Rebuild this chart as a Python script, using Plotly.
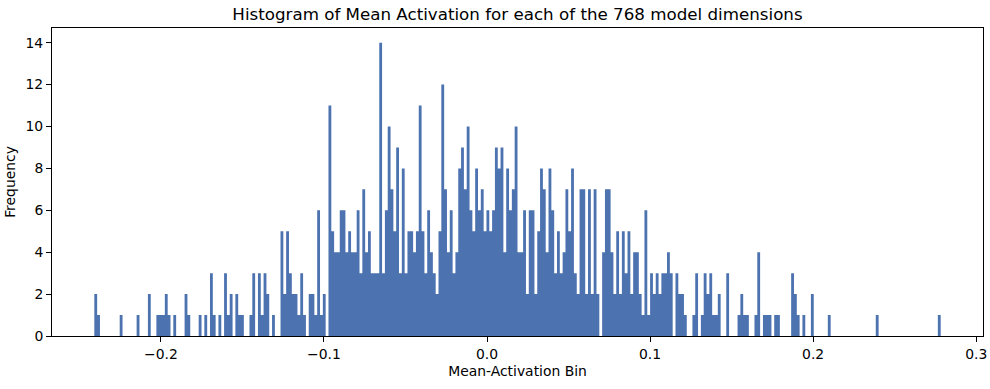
import plotly.graph_objects as go

# Histogram counts for 300 equal-width bins
bin_lo = -0.2408
bin_hi = 0.2782
n_bins = 300

counts = [0] * n_bins
nonzero = {
    0: 2, 1: 1, 9: 1, 15: 1, 19: 2, 22: 1, 23: 1, 24: 1, 25: 2, 26: 1, 28: 1, 32: 2, 33: 1,
    37: 1, 39: 1, 41: 3, 42: 1, 44: 1, 46: 3, 47: 1, 48: 2, 50: 2, 51: 1, 52: 1, 55: 1,
    56: 3, 58: 3, 59: 1, 60: 3, 61: 2, 63: 1,
    66: 5, 67: 2, 68: 5, 69: 3, 70: 2, 71: 2, 72: 1, 73: 3, 74: 1, 76: 2, 77: 2, 78: 1,
    79: 6, 80: 1, 81: 2,
    83: 11, 84: 5, 85: 4, 86: 4, 87: 6, 88: 6, 89: 4, 90: 5, 91: 4, 92: 4, 93: 6, 94: 3,
    95: 7, 96: 4, 97: 5, 98: 3, 99: 3, 100: 3,
    101: 14, 102: 3, 103: 6, 104: 10, 105: 7, 106: 5, 107: 9, 108: 3, 109: 8, 110: 3,
    111: 5, 112: 5, 113: 4, 114: 5, 115: 11, 116: 5, 117: 3, 118: 6, 119: 4, 120: 3,
    121: 2, 122: 5, 123: 12, 124: 7, 125: 4, 126: 6, 127: 3, 128: 4, 129: 8, 130: 9,
    131: 7, 132: 10, 133: 6, 134: 5, 135: 8, 136: 6, 137: 7, 138: 5, 139: 6, 140: 5,
    141: 6, 142: 9, 143: 8, 144: 9, 145: 4, 146: 8, 147: 6, 148: 7, 149: 10, 150: 4,
    151: 4, 152: 6, 153: 2, 154: 6, 155: 6, 156: 2, 157: 5, 158: 8, 159: 7, 160: 4,
    161: 8, 162: 6, 163: 3, 164: 5, 165: 3, 166: 4, 167: 7, 168: 5, 169: 8, 170: 3,
    171: 2, 172: 7, 173: 7, 174: 2, 175: 7, 176: 2, 177: 7, 178: 2, 180: 4,
    181: 7, 182: 7, 183: 4, 184: 2, 185: 5, 186: 2, 187: 5, 188: 3, 189: 5, 190: 2,
    191: 4, 192: 4, 193: 2, 194: 1, 195: 6, 196: 1, 197: 3, 198: 2, 199: 3, 200: 2,
    201: 3, 202: 3, 203: 4, 204: 3, 206: 3, 207: 2, 208: 2, 209: 1, 212: 1, 213: 3,
    215: 1, 216: 3, 217: 2, 218: 3, 219: 1, 220: 1, 221: 2, 224: 3, 228: 1, 229: 2,
    230: 1, 231: 1, 234: 1, 235: 4, 237: 1, 238: 1, 239: 1, 241: 1, 242: 1,
    247: 3, 248: 2, 249: 1, 251: 1, 254: 2, 260: 1, 277: 1, 299: 1,
}
for k, v in nonzero.items():
    counts[k] = v

x_ticks = [-0.2, -0.1, 0.0, 0.1, 0.2, 0.3]
y_ticks = [0, 2, 4, 6, 8, 10, 12, 14]

bw = (bin_hi - bin_lo) / n_bins
edges = [bin_lo + i * bw for i in range(n_bins + 1)]

bar_color = "#4c72b0"
# Histogram silhouette: step outline over the bin edges, filled down to zero
fig = go.Figure(go.Scatter(
    x=edges, y=counts + [counts[-1]],
    mode="lines", line=dict(shape="hv", width=0, color=bar_color),
    fill="tozeroy", fillcolor=bar_color, hoverinfo="skip",
))

span = bin_hi - bin_lo
font = "DejaVu Sans"
fig.update_layout(
    width=990, height=389,
    margin=dict(l=52, r=7, t=28, b=53),
    paper_bgcolor="white", plot_bgcolor="white",
    showlegend=False,
    font=dict(family=font, size=13.9, color="black"),
    title=dict(text="Histogram of Mean Activation for each of the 768 model dimensions",
               xref="paper", x=0.5, xanchor="center", y=1 - 14 / 389, yanchor="middle",
               font=dict(size=16.7, family=font)),
)
fig.update_xaxes(
    range=[bin_lo - 0.05 * span, bin_hi + 0.05 * span],
    tickvals=x_ticks, tickformat=".1f", automargin=False,
    showgrid=False, zeroline=False,
    showline=True, mirror=True, linecolor="black", linewidth=1,
    ticks="outside", ticklen=5, tickcolor="black",
    tickfont=dict(size=13.9),
    title=dict(text="Mean-Activation Bin", standoff=5, font=dict(size=13.9)),
)
fig.update_yaxes(
    range=[0, 14.7],
    tickvals=y_ticks, automargin=False,
    showgrid=False, zeroline=False,
    showline=True, mirror=True, linecolor="black", linewidth=1,
    ticks="outside", ticklen=5, tickcolor="black",
    tickfont=dict(size=13.9),
    title=dict(text="Frequency", standoff=6, font=dict(size=13.9)),
)

fig.write_html("out.html", config={"displayModeBar": False},
               post_script="document.body.style.margin='0';")
